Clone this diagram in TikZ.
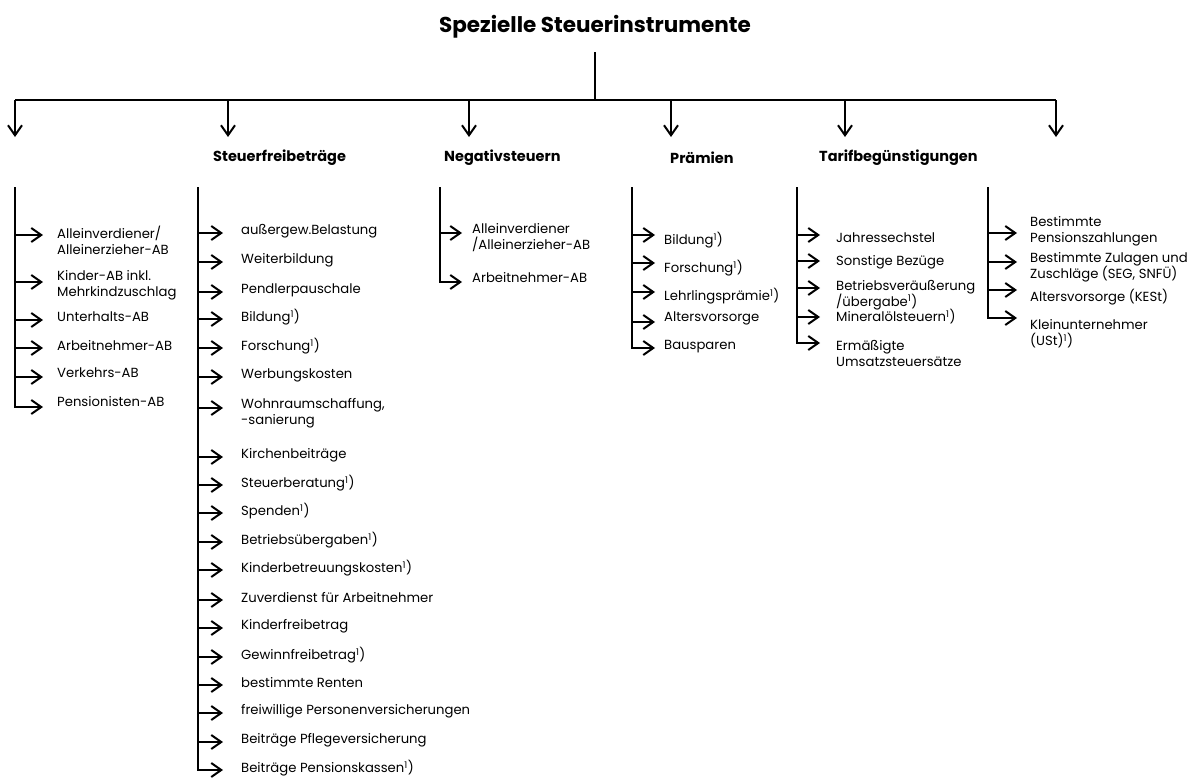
\documentclass[tikz,border=0pt]{standalone}
\usepackage{fontspec}
\setmainfont{Poppins}
\usetikzlibrary{arrows.meta, positioning}

\tikzset{
  line/.style={line width=2pt},
  conn/.style={line width=2pt, -{Straight Barb[length=10pt, width=14pt]}},
  itemtext/.style={anchor=west, inner sep=0pt, align=left, font=\fontsize{13.2}{16}\selectfont},
  headtext/.style={anchor=west, inner sep=0pt, font=\fontsize{14.5}{17}\selectfont\bfseries},
}
\newcommand{\fn}{\textsuperscript{1})}

\begin{document}
\begin{tikzpicture}[x=1pt, y=-1pt]
\useasboundingbox (0,0) rectangle (1190,779);

\node[font=\fontsize{21.5}{25}\selectfont\bfseries] (title) at (595,27) {Spezielle Steuerinstrumente};
\coordinate (stem) at (595,52);
\coordinate (bar) at (595,100);
\draw[line] (stem) -- (bar);

\foreach \i/\x in {1/15, 2/228, 3/469, 4/671, 5/845, 6/1056}
{
    \coordinate (d\i) at (\x,100);
    \coordinate (e\i) at (\x,137);
    \draw[conn] (d\i) -- (e\i);
}
\draw[line] (d1) -- (d6);

\node[headtext] (h2) at (213,158) {Steuerfreibeträge};
\node[headtext] (h3) at (444,158) {Negativsteuern};
\node[headtext] (h4) at (670,158) {Prämien};
\node[headtext] (h5) at (819,158) {Tarifbegünstigungen};

\foreach \i/\x in {1/15, 2/198, 3/440, 4/632, 5/797, 6/988}
    \coordinate (c\i) at (\x,187);

\foreach \n/\y/\d/\txt in {1/240/5/{Alleinverdiener/\\Alleinerzieher-AB}, 2/285/3/{Kinder-AB inkl.\\Mehrkindzuschlag}, 3/317/-3/{Unterhalts-AB}, 4/346/-2/{Arbeitnehmer-AB}, 5/373/-4/{Verkehrs-AB}, 6/402/-5/{Pensionisten-AB}}
{
    \node[itemtext] (a\n) at (57,\y) {\txt};
    \draw[conn, shorten >=14pt] (c1) |- ([yshift=\d pt]a\n.west);
}

\foreach \n/\y/\d/\txt in {1/231/-2/{außergew.Belastung}, 2/260/-2/{Weiterbildung}, 3/290/-2/{Pendlerpauschale}, 4/317/-2/{Bildung\fn}, 5/346/-2/{Forschung\fn}, 6/375/-2/{Werbungskosten}, 7/413/5/{Wohnraumschaffung,\\-sanierung}, 8/455/-2/{Kirchenbeiträge}, 9/483/-2/{Steuerberatung\fn}, 10/511/-2/{Spenden\fn}, 11/540/-2/{Betriebsübergaben\fn}, 12/568/-2/{Kinderbetreuungskosten\fn}, 13/598/-2/{Zuverdienst für Arbeitnehmer}, 14/626/-2/{Kinderfreibetrag}, 15/655/-2/{Gewinnfreibetrag\fn}, 16/683/-2/{bestimmte Renten}, 17/711/-2/{freiwillige Personenversicherungen}, 18/740/-2/{Beiträge Pflegeversicherung}, 19/768/-2/{Beiträge Pensionskassen\fn}}
{
    \node[itemtext] (b\n) at (241,\y) {\txt};
    \draw[conn, shorten >=18pt] (c2) |- ([yshift=\d pt]b\n.west);
}

\foreach \n/\y/\d/\txt in {1/238/5/{Alleinverdiener\\/Alleinerzieher-AB}, 2/278/-4/{Arbeitnehmer-AB}}
{
    \node[itemtext] (n\n) at (472,\y) {\txt};
    \draw[conn, shorten >=10pt] (c3) |- ([yshift=\d pt]n\n.west);
}

\foreach \n/\y/\d/\txt in {1/240/5/{Bildung\fn}, 2/268/5/{Forschung\fn}, 3/296/4/{Lehrlingsprämie\fn}, 4/318/-4/{Altersvorsorge}, 5/347/-1/{Bausparen}}
{
    \node[itemtext] (p\n) at (664,\y) {\txt};
    \draw[conn, shorten >=9pt] (c4) |- ([yshift=\d pt]p\n.west);
}

\foreach \n/\y/\d/\txt in {1/238/3/{Jahressechstel}, 2/262/1/{Sonstige Bezüge}, 3/295/7/{Betriebsveräußerung\\/übergabe\fn}, 4/317/0/{Mineralölsteuern\fn}, 5/353/10/{Ermäßigte\\Umsatzsteuersätze}}
{
    \node[itemtext] (t\n) at (836,\y) {\txt};
    \draw[conn, shorten >=16pt] (c5) |- ([yshift=\d pt]t\n.west);
}

\foreach \n/\y/\d/\txt in {1/231/-2/{Bestimmte\\Pensionszahlungen}, 2/267/5/{Bestimmte Zulagen und\\Zuschläge (SEG, SNFÜ)}, 3/297/7/{Altersvorsorge (KESt)}, 4/334/16/{Kleinunternehmer\\(USt)\fn}}
{
    \node[itemtext] (s\n) at (1030,\y) {\txt};
    \draw[conn, shorten >=13pt] (c6) |- ([yshift=\d pt]s\n.west);
}
\end{tikzpicture}
\end{document}
